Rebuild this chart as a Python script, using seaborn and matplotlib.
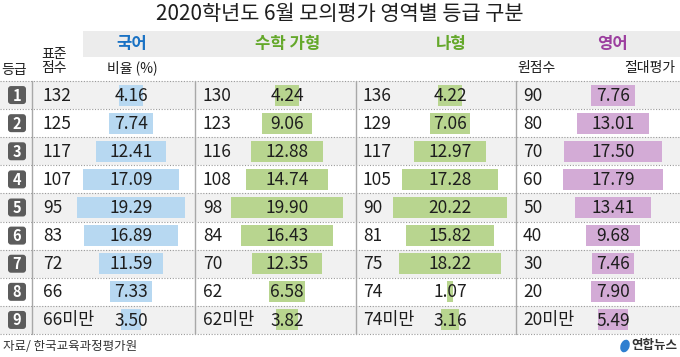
import pandas as pd
import matplotlib
matplotlib.use("Agg")
import matplotlib.pyplot as plt
import seaborn as sns
from matplotlib.patches import FancyBboxPatch, Rectangle, Ellipse

# data
grades = ["1", "2", "3", "4", "5", "6", "7", "8", "9"]

kor_score = ["132", "125", "117", "107", "95", "83", "72", "66", "66미만"]
kor_ratio = [4.16, 7.74, 12.41, 17.09, 19.29, 16.89, 11.59, 7.33, 3.50]

math_a_score = ["130", "123", "116", "108", "98", "84", "70", "62", "62미만"]
math_a_ratio = [4.24, 9.06, 12.88, 14.74, 19.90, 16.43, 12.35, 6.58, 3.82]

math_b_score = ["136", "129", "117", "105", "90", "81", "75", "74", "74미만"]
math_b_ratio = [4.22, 7.06, 12.97, 17.28, 20.22, 15.82, 18.22, 1.07, 3.16]

eng_score = ["90", "80", "70", "60", "50", "40", "30", "20", "20미만"]
eng_ratio = [7.76, 13.01, 17.50, 17.79, 13.41, 9.68, 7.46, 7.90, 5.49]

subjects = ["국어", "수학 가형", "나형", "영어"]

# layout (pixels)
W, H = 680, 357
TOP, BOT = 81, 334
ROW_H = (BOT - TOP) / len(grades)
PX_PER_UNIT = 5.6

sns.set_theme(style="white")
plt.rcParams["font.family"] = ["Noto Sans CJK KR", "DejaVu Sans"]

fig = plt.figure(figsize=(W / 100, H / 100), dpi=100)
fig.patch.set_facecolor("white")

# background axes in pixel coordinates for the table frame
bg = fig.add_axes([0, 0, 1, 1])
bg.set_xlim(0, W)
bg.set_ylim(H, 0)
bg.axis("off")

dark = "#1e1e1e"

bg.text(340, 14, "2020학년도 6월 모의평가 영역별 등급 구분", ha="center",
        va="center", fontsize=15, color=dark)

# header band
bg.add_patch(Rectangle((83, 31), W - 83, 26, color="#ececec", lw=0))

sub_x = [132, 288, 451, 612]
sub_colors = ["#1a72c4", "#64a82a", "#64a82a", "#9c3f9f"]
for name, x, c in zip(subjects, sub_x, sub_colors):
    bg.text(x, 44, name, ha="center", va="center", fontsize=12,
            fontweight="bold", color=c)

bg.text(14, 70, "등급", ha="center", va="center", fontsize=10, color=dark)
bg.text(54, 61, "표준\n점수", ha="center", va="center", fontsize=10,
        color=dark, linespacing=0.95)
bg.text(132, 68, "비율 (%)", ha="center", va="center", fontsize=10, color=dark)
bg.text(537, 68, "원점수", ha="center", va="center", fontsize=10, color=dark)
bg.text(650, 68, "절대평가", ha="center", va="center", fontsize=10, color=dark)

# row shading and dotted rules
for i in range(len(grades)):
    y0 = TOP + i * ROW_H
    if i % 2 == 0:
        bg.add_patch(Rectangle((0, y0), W, ROW_H, color="#f1f1f1", lw=0))
for i in range(len(grades) + 1):
    y0 = TOP + i * ROW_H
    bg.plot([0, W], [y0, y0], color="#9a9a9a", lw=0.8, ls=(0, (1, 1.5)))

for x in [32, 195, 356, 516]:
    bg.plot([x, x], [TOP, BOT], color="#a8a8a8", lw=1)

# grade boxes and score columns
score_cols = [(43, kor_score), (203, math_a_score), (363, math_b_score),
              (523, eng_score)]
for i, g in enumerate(grades):
    yc = TOP + (i + 0.5) * ROW_H
    bg.add_patch(FancyBboxPatch((8, yc - 9), 18, 18,
                                boxstyle="round,pad=0,rounding_size=3",
                                color="#5c5c5c", lw=0))
    bg.text(17, yc + 0.5, g, ha="center", va="center", fontsize=10.5,
            fontweight="bold", color="white")
    for x, scores in score_cols:
        bg.text(x, yc + 0.5, scores[i], ha="left", va="center", fontsize=12.5,
                color=dark)

# bar columns
bar_specs = [
    (131, kor_ratio, "#b7d8f1"),
    (287, math_a_ratio, "#b8d58f"),
    (450, math_b_ratio, "#b8d58f"),
    (613, eng_ratio, "#d3abd6"),
]
col_w = 150
for cx, ratios, color in bar_specs:
    left = (cx - col_w / 2) / W
    bottom = 1 - BOT / H
    ax = fig.add_axes([left, bottom, col_w / W, (BOT - TOP) / H])
    ax.patch.set_alpha(0)
    df = pd.DataFrame({"grade": grades, "ratio": ratios})
    sns.barplot(data=df, x="ratio", y="grade", orient="h", color=color,
                saturation=1, width=0.75, linewidth=0, ax=ax)
    # centre each bar on the column axis
    for p in ax.patches:
        p.set_x(-p.get_width() / 2)
    half = col_w / 2 / PX_PER_UNIT
    ax.set_xlim(-half, half)
    ax.set_ylim(len(grades) - 0.5, -0.5)
    ax.axis("off")
    for i, v in enumerate(ratios):
        ax.text(0, i + 0.02, f"{v:.2f}", ha="center", va="center",
                fontsize=12.5, color=dark)

# footer
bg.text(3, 347, "자료/ 한국교육과정평가원", ha="left", va="center",
        fontsize=9, color="#333333")
bg.add_patch(Ellipse((625, 346), 9, 13, angle=20, color="#2f7fd0", lw=0))
bg.text(631, 346, "연합뉴스", ha="left", va="center", fontsize=9,
        fontweight="bold", color="#333333")

fig.savefig("out.png", dpi=100)
